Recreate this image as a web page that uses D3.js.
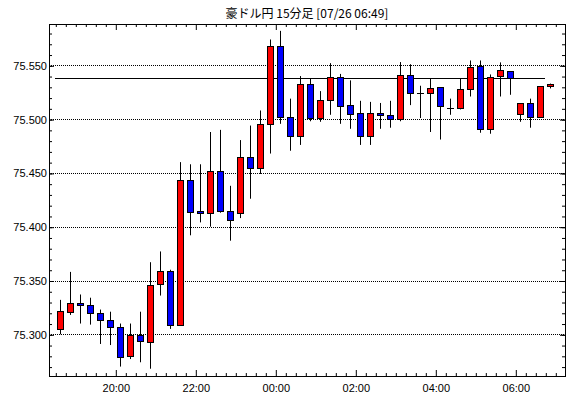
<!DOCTYPE html>
<html>
<head>
<meta charset="utf-8">
<title>豪ドル円 15分足</title>
<script src="https://d3js.org/d3.v7.min.js"></script>
<style>
  body { margin: 0; background: #fff; }
  text { font-family: "Liberation Sans", Arial, sans-serif; }
</style>
</head>
<body>
<svg width="570" height="398"></svg>
<script>
    // 15-minute candles, 07/25 18:30 -> 07/26 06:45
    const times = [
        "18:30", "18:45", "19:00", "19:15", "19:30", "19:45", "20:00", "20:15", "20:30", "20:45",
        "21:00", "21:15", "21:30", "21:45", "22:00", "22:15", "22:30", "22:45", "23:00", "23:15",
        "23:30", "23:45", "00:00", "00:15", "00:30", "00:45", "01:00", "01:15", "01:30", "01:45",
        "02:00", "02:15", "02:30", "02:45", "03:00", "03:15", "03:30", "03:45", "04:00", "04:15",
        "04:30", "04:45", "05:00", "05:15", "05:30", "05:45", "06:00", "06:15", "06:30", "06:45"
    ];
    const open = [
        75.305, 75.321, 75.329, 75.327, 75.320, 75.313, 75.3065, 75.280, 75.299, 75.2926,
        75.3465, 75.3585, 75.309, 75.443, 75.415, 75.4124, 75.4514, 75.415, 75.4124, 75.4644,
        75.4542, 75.495, 75.5676, 75.502, 75.484, 75.533, 75.501, 75.518, 75.539, 75.5127,
        75.5053, 75.484, 75.5053, 75.5035, 75.4997, 75.5406, 75.524, 75.524, 75.5295, 75.510,
        75.510, 75.5276, 75.549, 75.4904, 75.540, 75.5443, 75.5044, 75.5146, 75.502, 75.5304
    ];
    const high = [
        75.332, 75.358, 75.337, 75.334, 75.323, 75.321, 75.310, 75.310, 75.321, 75.367,
        75.377, 75.360, 75.460, 75.458, 75.458, 75.488, 75.490, 75.438, 75.4805, 75.494,
        75.508, 75.574, 75.582, 75.519, 75.540, 75.5375, 75.526, 75.552, 75.542, 75.536,
        75.517, 75.516, 75.515, 75.517, 75.553, 75.551, 75.531, 75.538, 75.5295, 75.519,
        75.5375, 75.5545, 75.5545, 75.5415, 75.5527, 75.5443, 75.5146, 75.519, 75.5304, 75.533
    ];
    const low = [
        75.300, 75.318, 75.310, 75.309, 75.291, 75.290, 75.270, 75.277, 75.274, 75.268,
        75.336, 75.305, 75.309, 75.392, 75.404, 75.400, 75.413, 75.387, 75.408, 75.426,
        75.449, 75.468, 75.4956, 75.4706, 75.476, 75.498, 75.4975, 75.504, 75.4956, 75.491,
        75.476, 75.476, 75.491, 75.492, 75.498, 75.513, 75.501, 75.488, 75.481, 75.504,
        75.509, 75.521, 75.4873, 75.4864, 75.521, 75.5226, 75.4975, 75.492, 75.502, 75.5285
    ];
    const close = [
        75.322, 75.329, 75.327, 75.320, 75.313, 75.3065, 75.279, 75.299, 75.2935, 75.3455,
        75.3585, 75.309, 75.443, 75.414, 75.4124, 75.4514, 75.415, 75.4065, 75.4644, 75.4542,
        75.495, 75.5676, 75.502, 75.484, 75.533, 75.501, 75.518, 75.539, 75.512, 75.505,
        75.484, 75.5053, 75.5035, 75.4997, 75.5406, 75.524, 75.524, 75.5285, 75.512, 75.510,
        75.5276, 75.548, 75.4904, 75.539, 75.5453, 75.5378, 75.5146, 75.502, 75.5304, 75.533
    ];
    const refLevel = 75.5385;
    const yTicks = [75.300, 75.350, 75.400, 75.450, 75.500, 75.550];
    const xLabels = ["20:00", "22:00", "00:00", "02:00", "04:00", "06:00"];
    const title = "豪ドル円 15分足 [07/26 06:49]";

    // evening hours belong to 07/25, the rest to 07/26
    const parse = d3.timeParse("%Y-%m-%d %H:%M");
    const toDate = s => parse((+s.slice(0, 2) >= 12 ? "2024-07-25 " : "2024-07-26 ") + s);

    const data = times.map((t, i) => ({
        t: toDate(t), o: open[i], h: high[i], l: low[i], c: close[i]
    }));

    const pLeft = 49, pRight = 565, pTop = 24, pBottom = 376;
    const svg = d3.select("svg");

    // 10px per 15 minutes, 18:30 boundary sits at x=55.3
    const t0 = toDate("18:30").getTime();
    const x = d3.scaleTime()
        .domain([new Date(t0 - 6.3 * 90000), new Date(t0 + (pRight - 55.3) * 90000)])
        .range([pLeft, pRight]);

    const y = d3.scaleLinear()
        .domain([75.3 - (pBottom - 334.3) / 1076, 75.55 + (65.3 - pTop) / 1076])
        .range([pBottom, pTop]);

    const half = 7.5 * 60000;
    const cx = d => Math.round(x(new Date(d.t.getTime() + half)));

    // grid
    svg.append("g")
        .selectAll("line")
        .data(yTicks)
        .enter().append("line")
        .attr("x1", pLeft).attr("x2", pRight)
        .attr("y1", d => Math.round(y(d)) + 0.5)
        .attr("y2", d => Math.round(y(d)) + 0.5)
        .attr("stroke", "#000")
        .attr("stroke-dasharray", "1,1");

    // reference line
    svg.append("line")
        .attr("x1", Math.round(x(toDate("18:30")))).attr("x2", Math.round(x(toDate("06:45"))))
        .attr("y1", Math.round(y(refLevel)) + 0.5)
        .attr("y2", Math.round(y(refLevel)) + 0.5)
        .attr("stroke", "#000");

    // candles
    const candles = svg.append("g").selectAll("g")
        .data(data)
        .enter().append("g");

    candles.append("line")
        .attr("x1", d => cx(d) + 0.5).attr("x2", d => cx(d) + 0.5)
        .attr("y1", d => y(d.h)).attr("y2", d => y(d.l))
        .attr("stroke", "#000");

    candles.filter(d => d.o !== d.c).append("rect")
        .attr("x", d => cx(d) - 3 + 0.5)
        .attr("y", d => Math.round(y(Math.max(d.o, d.c))) + 0.5)
        .attr("width", 6)
        .attr("height", d => Math.max(1, Math.round(y(Math.min(d.o, d.c))) - Math.round(y(Math.max(d.o, d.c)))))
        .attr("fill", d => d.c > d.o ? "#ff0000" : "#0000ff")
        .attr("stroke", "#000");

    candles.filter(d => d.o === d.c).append("line")
        .attr("x1", d => cx(d) - 3).attr("x2", d => cx(d) + 4)
        .attr("y1", d => Math.round(y(d.o)) + 0.5)
        .attr("y2", d => Math.round(y(d.o)) + 0.5)
        .attr("stroke", "#000");

    // axes
    const minorX = d3.timeMinute.every(15);
    const isMajorX = d => d.getMinutes() === 0 && d.getHours() % 2 === 0;
    const fmt = d3.timeFormat("%H:%M");

    svg.append("g")
        .attr("transform", `translate(0.5,${pBottom})`)
        .call(d3.axisBottom(x).ticks(minorX).tickSizeOuter(0).tickSizeInner(-3)
            .tickFormat(d => isMajorX(d) && xLabels.includes(fmt(d)) ? fmt(d) : ""))
        .call(g => g.select(".domain").remove())
        .call(g => g.selectAll(".tick line").attr("y2", d => isMajorX(d) ? -6 : -3))
        .call(g => g.selectAll(".tick text").attr("y", 8).attr("font-size", 11)
            .attr("font-family", "Liberation Sans, Arial, sans-serif").attr("fill", "#000"));

    svg.append("g")
        .attr("transform", `translate(0.5,${pTop})`)
        .call(d3.axisTop(x).ticks(minorX).tickSizeOuter(0).tickSizeInner(-3).tickFormat(""))
        .call(g => g.select(".domain").remove())
        .call(g => g.selectAll(".tick line").attr("y2", d => isMajorX(d) ? 6 : 3));

    const minorY = d3.range(75.27, 75.585, 0.01).map(v => +v.toFixed(2));
    svg.append("g")
        .attr("transform", `translate(${pLeft},0.5)`)
        .call(d3.axisLeft(y).tickValues(minorY).tickSizeOuter(0).tickSizeInner(-3).tickFormat(""))
        .call(g => g.select(".domain").remove());
    svg.append("g")
        .attr("transform", `translate(${pLeft},0.5)`)
        .call(d3.axisLeft(y).tickValues(yTicks).tickSizeOuter(0).tickSizeInner(-5).tickPadding(2)
            .tickFormat(d3.format(".3f")))
        .call(g => g.select(".domain").remove())
        .call(g => g.selectAll(".tick text").attr("font-size", 11)
            .attr("font-family", "Liberation Sans, Arial, sans-serif").attr("fill", "#000"));

    svg.append("g")
        .attr("transform", `translate(${pRight},0.5)`)
        .call(d3.axisRight(y).tickValues(minorY).tickSizeOuter(0).tickSizeInner(-3).tickFormat(""))
        .call(g => g.select(".domain").remove());
    svg.append("g")
        .attr("transform", `translate(${pRight},0.5)`)
        .call(d3.axisRight(y).tickValues(yTicks).tickSizeOuter(0).tickSizeInner(-5).tickFormat(""))
        .call(g => g.select(".domain").remove());

    // frame
    svg.append("rect")
        .attr("x", pLeft + 0.5).attr("y", pTop + 0.5)
        .attr("width", pRight - pLeft).attr("height", pBottom - pTop)
        .attr("fill", "none")
        .attr("stroke", "#000");

    svg.append("text")
        .attr("x", (pLeft + pRight) / 2)
        .attr("y", 18)
        .attr("text-anchor", "middle")
        .style("font-family", "'Noto Sans CJK JP', sans-serif")
        .style("font-size", "12px")
        .text(title);
</script>
</body>
</html>
